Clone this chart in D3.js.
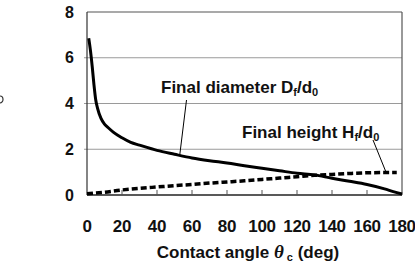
<!DOCTYPE html>
<html><head><meta charset="utf-8">
<script src="https://cdn.jsdelivr.net/npm/d3@7"></script>
<style>body{margin:0;background:#fff}svg{display:block}text{font-family:Arial,"Liberation Sans",sans-serif;font-weight:bold;fill:#111}</style>
</head><body><svg id="c" width="415" height="268"></svg>
<script>
const diamAngles = [1,2,3,4,5,6,8,10,12,15,20,25,30,40,50,60,70,80,90,100,110,120,130,140,150,160,170,175,180];
const diamValues = [6.85,6.3,5.6,4.8,4.15,3.8,3.35,3.1,2.95,2.75,2.5,2.3,2.18,1.95,1.78,1.62,1.5,1.4,1.28,1.17,1.06,0.95,0.88,0.73,0.6,0.46,0.27,0.15,0.04];
const heightAngles = [0,10,20,30,40,50,60,70,80,90,100,110,120,130,140,150,160,170,177];
const heightValues = [0.05,0.12,0.22,0.29,0.35,0.41,0.46,0.52,0.57,0.62,0.68,0.74,0.8,0.86,0.9,0.94,0.97,0.98,0.98];
const xTicks = [0,20,40,60,80,100,120,140,160,180];
const yTicks = [0,2,4,6,8];

const svg = d3.select("#c");
const x = d3.scaleLinear().domain([0,180]).range([87,402]);
const y = d3.scaleLinear().domain([0,8]).range([195,12]);

// fragment of a cropped glyph at the left edge (decorative)
svg.append("path").attr("d","M0,96 A3,3.5 0 1 1 0,103").attr("fill","none").attr("stroke","#333").attr("stroke-width",1.2);

// gridlines
svg.append("g").selectAll("line").data([2,4,6]).join("line")
  .attr("x1",84).attr("x2",402).attr("y1",d=>y(d)).attr("y2",d=>y(d))
  .attr("stroke","#9a9a9a").attr("stroke-width",1);
// border
svg.append("line").attr("x1",87).attr("x2",402).attr("y1",y(8)).attr("y2",y(8)).attr("stroke","#555").attr("stroke-width",1.2);
svg.append("line").attr("x1",402).attr("x2",402).attr("y1",y(8)).attr("y2",y(0)).attr("stroke","#555").attr("stroke-width",1.2);
svg.append("line").attr("x1",87).attr("x2",87).attr("y1",y(8)).attr("y2",y(0)).attr("stroke","#333").attr("stroke-width",1.2);
svg.append("line").attr("x1",87).attr("x2",402).attr("y1",y(0)).attr("y2",y(0)).attr("stroke","#222").attr("stroke-width",1.5);

// x ticks inside
svg.append("g").selectAll("line").data(xTicks.slice(1,-1)).join("line")
  .attr("x1",d=>x(d)).attr("x2",d=>x(d)).attr("y1",y(0)).attr("y2",y(0)-5)
  .attr("stroke","#555").attr("stroke-width",1);

// tick labels
svg.append("g").selectAll("text").data(yTicks).join("text")
  .attr("x",74).attr("y",d=>y(d)+5.5).attr("text-anchor","end")
  .style("font-size","16px").text(d=>d);
svg.append("g").selectAll("text").data(xTicks).join("text")
  .attr("x",d=>x(d)).attr("y",232).attr("text-anchor","middle")
  .style("font-size","17px").style("letter-spacing","-0.3px").text(d=>d);

// axis title
const t = svg.append("text").attr("x",248).attr("y",258).attr("text-anchor","middle").style("font-size","17px");
t.append("tspan").text("Contact angle ");
t.append("tspan").style("font-style","italic").style("font-family","'Times New Roman','Liberation Serif',serif").style("font-size","19px").text("θ");
t.append("tspan").attr("dy",3).style("font-size","11px").text(" c");
t.append("tspan").attr("dy",-3).text(" (deg)");

// lines
const line = d3.line().x(d=>x(d[0])).y(d=>y(d[1])).curve(d3.curveMonotoneX);
svg.append("path").datum(d3.zip(diamAngles,diamValues)).attr("d",line)
  .attr("fill","none").attr("stroke","#000").attr("stroke-width",3);
svg.append("path").datum(d3.zip(heightAngles,heightValues)).attr("d",line)
  .attr("fill","none").attr("stroke","#000").attr("stroke-width",3.5).attr("stroke-dasharray","6,3");

// annotations
const a1 = svg.append("text").attr("x",161).attr("y",93).style("font-size","17px");
a1.append("tspan").text("Final diameter D");
a1.append("tspan").attr("dy",3).style("font-size","11px").text("f");
a1.append("tspan").attr("dy",-3).text("/d");
a1.append("tspan").attr("dy",3).style("font-size","11px").text("0");
svg.append("line").attr("x1",186.5).attr("y1",100).attr("x2",x(53)).attr("y2",y(1.75)).attr("stroke","#000").attr("stroke-width",1);

const a2 = svg.append("text").attr("x",242).attr("y",138).style("font-size","17px");
a2.append("tspan").text("Final height H");
a2.append("tspan").attr("dy",3).style("font-size","11px").text("f");
a2.append("tspan").attr("dy",-3).text("/d");
a2.append("tspan").attr("dy",3).style("font-size","11px").text("0");
svg.append("line").attr("x1",373).attr("y1",140).attr("x2",386).attr("y2",y(1.0)).attr("stroke","#000").attr("stroke-width",1);
</script></body></html>
